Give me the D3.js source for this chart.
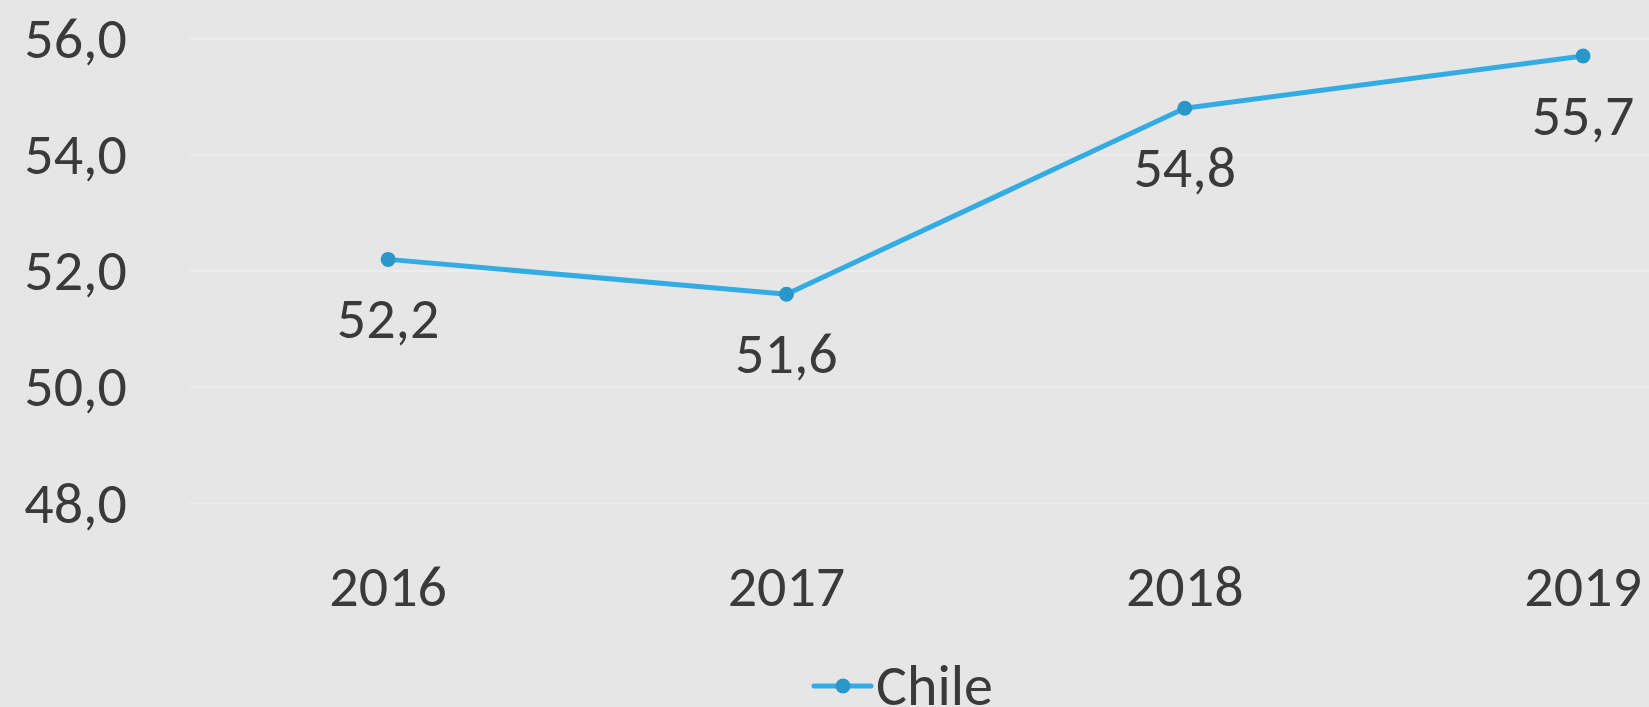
<!DOCTYPE html>
<meta charset="utf-8">
<script src="https://d3js.org/d3.v7.min.js"></script>
<style>
  html, body {
    margin: 0;
    padding: 0;
    background: #e6e6e6;
    overflow: hidden;
  }
  svg {
    display: block;
    font-family: Carlito, Calibri, Lato, sans-serif;
  }
  .lbl {
    fill: #3a3a3a;
    font-size: 58px;
  }
  .grid line {
    stroke: #ececec;
    stroke-width: 2;
  }
</style>
<body></body>
<script>

var years = ["2016", "2017", "2018", "2019"];
var chile = [52.2, 51.6, 54.8, 55.7];
var yTicks = [48, 50, 52, 54, 56];
var seriesName = "Chile";

var W = 1649, H = 707;
var margin = {top: 38.5, left: 189, bottom: 203.5};
var bandW = 398.3;

var svg = d3.select("body").append("svg")
    .attr("width", W)
    .attr("height", H);

var x = d3.scaleBand()
    .domain(years)
    .range([margin.left, margin.left + bandW * years.length]);
var y = d3.scaleLinear()
    .domain([48, 56])
    .range([H - margin.bottom, margin.top]);

var fmt = function(v) { return d3.format(".1f")(v).replace(".", ","); };

// gridlines
svg.append("g")
    .attr("class", "grid")
  .selectAll("line")
  .data(yTicks)
  .enter().append("line")
    .attr("x1", x.range()[0])
    .attr("x2", x.range()[1])
    .attr("y1", function(d) { return y(d); })
    .attr("y2", function(d) { return y(d); });

// y labels
svg.append("g")
  .selectAll("text")
  .data(yTicks)
  .enter().append("text")
    .attr("class", "lbl")
    .attr("x", 127)
    .attr("y", function(d) { return y(d); })
    .attr("dy", "0.33em")
    .attr("text-anchor", "end")
    .text(fmt);

// x labels
svg.append("g")
  .selectAll("text")
  .data(years)
  .enter().append("text")
    .attr("class", "lbl")
    .attr("x", function(d) { return x(d) + x.bandwidth() / 2; })
    .attr("y", 606)
    .attr("text-anchor", "middle")
    .text(function(d) { return d; });

var pts = years.map(function(d, i) { return {year: d, value: chile[i]}; });
var cx = function(d) { return x(d.year) + x.bandwidth() / 2; };

var line = d3.line()
    .x(cx)
    .y(function(d) { return y(d.value); });

svg.append("path")
    .datum(pts)
    .attr("fill", "none")
    .attr("stroke", "#33abe3")
    .attr("stroke-width", 5)
    .attr("stroke-linejoin", "round")
    .attr("d", line);

svg.append("g")
  .selectAll("circle")
  .data(pts)
  .enter().append("circle")
    .attr("cx", cx)
    .attr("cy", function(d) { return y(d.value); })
    .attr("r", 7.5)
    .attr("fill", "#2a97ca");

// data labels under each point
svg.append("g")
  .selectAll("text")
  .data(pts)
  .enter().append("text")
    .attr("class", "lbl")
    .attr("x", cx)
    .attr("y", function(d) { return y(d.value) + 79; })
    .attr("text-anchor", "middle")
    .text(function(d) { return fmt(d.value); });

// legend
var legend = svg.append("g").attr("transform", "translate(814,686)");
legend.append("line")
    .attr("x1", 0)
    .attr("x2", 57)
    .attr("stroke", "#33abe3")
    .attr("stroke-width", 5)
    .attr("stroke-linecap", "round");
legend.append("circle")
    .attr("cx", 29)
    .attr("r", 7.5)
    .attr("fill", "#2a97ca");
legend.append("text")
    .attr("class", "lbl")
    .attr("x", 62)
    .attr("y", 19)
    .text(seriesName);

</script>
